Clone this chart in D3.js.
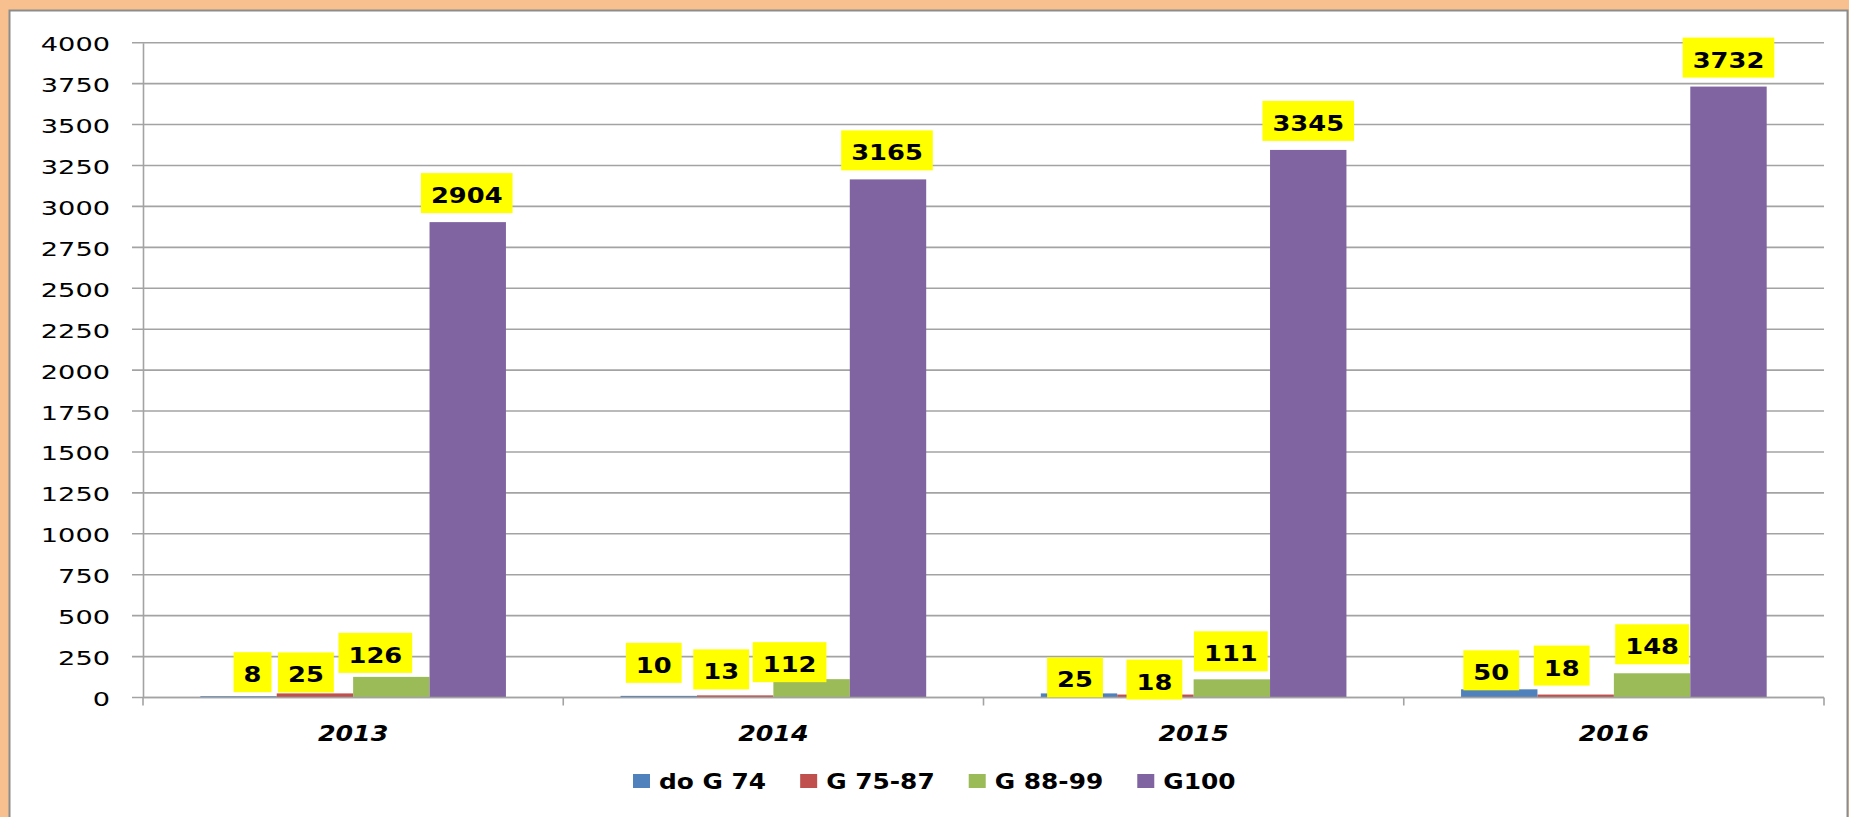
<!DOCTYPE html>
<html>
<head>
<meta charset="utf-8">
<script src="https://cdn.jsdelivr.net/npm/d3@7/dist/d3.min.js"></script>
<style>
  body { margin: 0; background: #fff; overflow: hidden; }
</style>
</head>
<body>
<div id="chart"></div>
<script>
"use strict";

/* Data */
let categories = ["2013", "2014", "2015", "2016"];
let seriesNames = ["do G 74", "G 75-87", "G 88-99", "G100"];
let doG74 = [8, 10, 25, 50];
let g7587 = [25, 13, 18, 18];
let g8899 = [126, 112, 111, 148];
let g100 = [2904, 3165, 3345, 3732];
let yTicks = [0, 250, 500, 750, 1000, 1250, 1500, 1750, 2000, 2250, 2500, 2750, 3000, 3250, 3500, 3750, 4000];

let seriesValues = [doG74, g7587, g8899, g100];
let colors = ["#4f81bd", "#c0504d", "#9bbb59", "#8064a2"];

/* label nudges (px) for the hand-placed data labels, per series then category */
let labelNudge = [
  [[14, 5], [-5, -4], [-4, 13], [-8, 10]],
  [[-9, 8], [-14, 3], [-1, 14], [-14, 0]],
  [[-16, 5], [-22, 12], [-1, 1], [0, 0]],
  [[-1, 0], [-1, 0], [0, 0], [0, 0]]
];

/* SVG setup */
let svgWidth = 1849;
let svgHeight = 817;
let plotLeft = 143;
let plotRight = 1824;
let plotTop = 42.7;
let plotBottom = 697.5;
let gridColor = "#a3a3a3";
let fontFamily = "'DejaVu Sans', Verdana, sans-serif";

let svg = d3.select("#chart")
  .append("svg")
  .attr("width", svgWidth)
  .attr("height", svgHeight);

/* Frame */
svg.append("rect")
  .attr("width", svgWidth)
  .attr("height", svgHeight)
  .attr("fill", "#f9c08f");

svg.append("rect")
  .attr("x", 9.5)
  .attr("y", 10.5)
  .attr("width", 1838)
  .attr("height", svgHeight)
  .attr("fill", "#ffffff")
  .attr("stroke", "#8c8c8c")
  .attr("stroke-width", 2);

/* Scales */
let x0 = d3.scaleBand()
  .domain(categories)
  .range([plotLeft, plotRight])
  .paddingInner(0)
  .paddingOuter(0);

let x1 = d3.scaleBand()
  .domain(seriesNames)
  .range([0, x0.bandwidth()])
  .paddingInner(0)
  .paddingOuter(0.75);

let y = d3.scaleLinear().domain([0, 4000]).range([plotBottom, plotTop]);

/* Gridlines */
svg.append("g")
  .selectAll("line")
  .data(yTicks)
  .join("line")
  .attr("x1", plotLeft - 11)
  .attr("x2", plotRight)
  .attr("y1", d => y(d))
  .attr("y2", d => y(d))
  .attr("stroke", gridColor)
  .attr("stroke-width", 1.6);

/* Bars */
for (let s = 0; s < seriesNames.length; s++) {
  svg.append("g")
    .selectAll("rect")
    .data(seriesValues[s])
    .join("rect")
    .attr("x", (d, i) => x0(categories[i]) + x1(seriesNames[s]))
    .attr("y", d => y(d))
    .attr("width", x1.bandwidth())
    .attr("height", d => plotBottom - y(d))
    .attr("fill", colors[s]);
}

/* Y axis */
let yAxis = svg.append("g")
  .attr("transform", "translate(" + plotLeft + ",0)")
  .call(d3.axisLeft(y).tickValues(yTicks).tickSize(0).tickFormat(d3.format("d")));

yAxis.select(".domain")
  .attr("stroke", gridColor)
  .attr("stroke-width", 1.6);

yAxis.selectAll("text")
  .attr("x", null)
  .attr("dy", "0.4em")
  .attr("transform", "translate(-33,0) scale(1.36,1)")
  .style("font-family", fontFamily)
  .style("font-size", "20px")
  .attr("fill", "#000");

/* X axis */
svg.append("line")
  .attr("x1", plotLeft)
  .attr("x2", plotRight)
  .attr("y1", plotBottom)
  .attr("y2", plotBottom)
  .attr("stroke", gridColor)
  .attr("stroke-width", 1.6);

let boundaries = categories.map(c => x0(c)).concat([plotRight]);
svg.append("g")
  .selectAll("line")
  .data(boundaries)
  .join("line")
  .attr("x1", d => d)
  .attr("x2", d => d)
  .attr("y1", plotBottom)
  .attr("y2", plotBottom + 8)
  .attr("stroke", gridColor)
  .attr("stroke-width", 1.6);

let xAxis = svg.append("g")
  .attr("transform", "translate(0," + plotBottom + ")")
  .call(d3.axisBottom(x0).tickSize(0));

xAxis.select(".domain").remove();
xAxis.selectAll("text")
  .attr("y", null)
  .attr("dy", null)
  .attr("transform", "translate(0,43) scale(1.15,1)")
  .style("font-family", fontFamily)
  .style("font-size", "22px")
  .style("font-weight", "bold")
  .style("font-style", "italic")
  .attr("fill", "#000");

/* Data labels */
let labelScale = 1.17;
for (let s = 0; s < seriesNames.length; s++) {
  for (let i = 0; i < categories.length; i++) {
    let v = seriesValues[s][i];
    let cx = x0(categories[i]) + x1(seriesNames[s]) + x1.bandwidth() / 2 + labelNudge[s][i][0];
    let bottom = y(v) - 9 + labelNudge[s][i][1];
    let g = svg.append("g");
    let box = g.append("rect").attr("fill", "#ffff00");
    let t = g.append("text")
      .attr("text-anchor", "middle")
      .attr("transform", "translate(" + cx + "," + (bottom - 10) + ") scale(" + labelScale + ",1)")
      .style("font-family", fontFamily)
      .style("font-size", "22px")
      .style("font-weight", "bold")
      .attr("fill", "#000")
      .text(v);
    let w = t.node().getComputedTextLength() * labelScale + 20;
    box.attr("x", cx - w / 2)
      .attr("y", bottom - 40)
      .attr("width", w)
      .attr("height", 40);
  }
}

/* Legend */
let legendScale = 1.13;
let legend = svg.append("g").attr("transform", "translate(633,0)");
let lx = 0;
for (let s = 0; s < seriesNames.length; s++) {
  legend.append("rect")
    .attr("x", lx)
    .attr("y", 774)
    .attr("width", 17)
    .attr("height", 14)
    .attr("fill", colors[s]);
  let t = legend.append("text")
    .attr("transform", "translate(" + (lx + 26) + ",789) scale(" + legendScale + ",1)")
    .style("font-family", fontFamily)
    .style("font-size", "22px")
    .style("font-weight", "bold")
    .attr("fill", "#000")
    .text(seriesNames[s]);
  lx += 26 + t.node().getComputedTextLength() * legendScale + 34;
}
</script>
</body>
</html>
